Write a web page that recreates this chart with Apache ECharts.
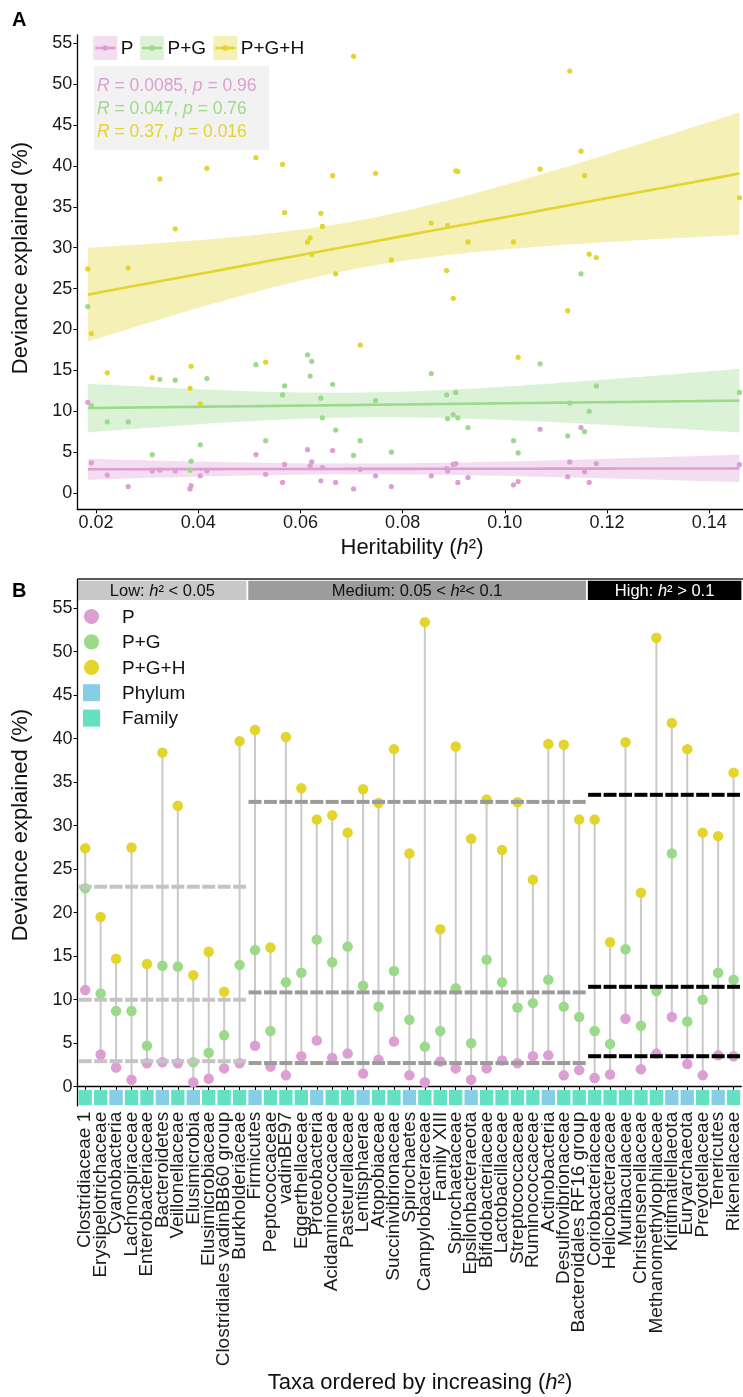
<!DOCTYPE html>
<html><head><meta charset="utf-8">
<script src="https://cdn.jsdelivr.net/npm/echarts@6/dist/echarts.min.js"></script>
<style>html,body{margin:0;padding:0;background:#fff}#c{width:743px;height:1397px}</style>
</head><body><div id="c"></div>
<script>
// ---------------- data ----------------
const taxa = ['Clostridiaceae 1','Erysipelotrichaceae','Cyanobacteria','Lachnospiraceae','Enterobacteriaceae','Bacteroidetes','Veillonellaceae','Elusimicrobia','Elusimicrobiaceae','Clostridiales vadinBB60 group','Burkholderiaceae',
 'Firmicutes','Peptococcaceae','vadinBE97','Eggerthellaceae','Proteobacteria','Acidaminococcaceae','Pasteurellaceae','Lentisphaerae','Atopobiaceae','Succinivibrionaceae','Spirochaetes','Campylobacteraceae','Family XIII','Spirochaetaceae','Epsilonbacteraeota','Bifidobacteriaceae','Lactobacillaceae','Streptococcaceae','Ruminococcaceae','Actinobacteria','Desulfovibrionaceae','Bacteroidales RF16 group',
 'Coriobacteriaceae','Helicobacteraceae','Muribaculaceae','Christensenellaceae','Methanomethylophilaceae','Kiritimatiellaeota','Euryarchaeota','Prevotellaceae','Tenericutes','Rikenellaceae'];
const taxonLevel = ['F','F','P','F','F','P','F','P','F','F','F',
 'P','F','F','F','P','F','F','P','F','F','P','F','F','F','P','F','F','F','F','P','F','F',
 'F','F','F','F','F','P','P','F','P','F'];
const heritability = [0.0184,0.0191,0.0222,0.0263,0.0310,0.0325,0.0355,0.0384,0.0386,0.0404,0.0417,
 0.0513,0.0532,0.0565,0.0569,0.0614,0.0619,0.0622,0.0640,0.0643,0.0663,0.0669,0.0704,0.0717,0.0747,0.0778,0.0856,0.0886,0.0888,0.0899,0.0904,0.0908,0.0928,
 0.1017,0.1026,0.1069,0.1123,0.1127,0.1149,0.1156,0.1165,0.1179,0.1459];
const devP = [11.1,3.7,2.2,0.8,2.7,2.8,2.7,0.5,0.9,2.1,2.7,
 4.7,2.3,1.3,3.5,5.3,3.3,3.8,1.5,3.1,5.2,1.3,0.5,2.9,2.1,0.8,2.1,3.0,2.7,3.5,3.6,1.3,1.9,
 1.0,1.4,7.8,2.0,3.8,8.0,2.6,1.3,3.6,3.5];
const devPG = [22.8,10.7,8.7,8.7,4.7,13.9,13.8,2.8,3.9,5.9,14.0,
 15.7,6.4,12.0,13.1,16.9,14.3,16.1,11.6,9.2,13.3,7.7,4.6,6.4,11.3,5.0,14.6,12.0,9.1,9.6,12.3,9.2,8.0,
 6.4,4.9,15.8,7.0,11.0,26.8,7.5,10.0,13.1,12.3];
const devPGH = [27.4,19.5,14.7,27.5,14.1,38.4,32.3,12.8,15.5,10.9,39.7,
 41.0,16.0,40.2,34.3,30.7,31.2,29.2,34.2,32.6,38.8,26.8,53.4,18.1,39.1,28.5,33.0,27.2,32.7,23.8,39.4,39.3,30.7,
 30.7,16.6,39.6,22.3,51.6,41.8,38.8,29.2,28.8,36.1];
const statsText = [['0.0085','0.96'],['0.047','0.76'],['0.37','0.016']];
const yTicks = [0,5,10,15,20,25,30,35,40,45,50,55];
const xTicksA = [0.02,0.04,0.06,0.08,0.10,0.12,0.14];
const groupNames = ['Low','Medium','High'];
const groupCuts = [0.05,0.1];

// ---------------- styles ----------------
const FONT = 'Liberation Sans, Arial, Helvetica, sans-serif';
const colP = '#dd9fd3', colPG = '#9bda8b', colPGH = '#e3d52e';
const seriesCols = [colP, colPG, colPGH];
const colPhylum = '#86cde6', colFamily = '#66e0c3';
const groupDash = ['#c4c4c4','#9b9b9b','#000000'];
const groupStrip = ['#c8c8c8','#9c9c9c','#000000'];
const groupText = ['#111','#111','#fff'];

// ---------------- regression (lm + 95% CI) ----------------
function fitLM(xs, ys){
  const n = xs.length;
  const mx = xs.reduce((a,b)=>a+b,0)/n, my = ys.reduce((a,b)=>a+b,0)/n;
  let sxx=0, sxy=0;
  for(let i=0;i<n;i++){ sxx+=(xs[i]-mx)**2; sxy+=(xs[i]-mx)*(ys[i]-my); }
  const b = sxy/sxx, a = my-b*mx;
  let sse=0; for(let i=0;i<n;i++){ sse+=(ys[i]-a-b*xs[i])**2; }
  const s = Math.sqrt(sse/(n-2)), t = 2.0195;
  const x0 = Math.min(...xs), x1 = Math.max(...xs);
  const line=[], up=[], lo=[];
  const K=80;
  for(let k=0;k<=K;k++){
    const x = x0+(x1-x0)*k/K, yh = a+b*x;
    const se = s*Math.sqrt(1/n+(x-mx)**2/sxx);
    line.push([x,yh]); up.push([x,yh+t*se]); lo.push([x,yh-t*se]);
  }
  return {line, up, lo};
}
const dataSets = [devP, devPG, devPGH];
const fits = dataSets.map(d=>fitLM(heritability, d));

// ---------------- groups ----------------
const grp = heritability.map(h => h<groupCuts[0]?0:(h<groupCuts[1]?1:2));
function groupMean(arr,g){ let s=0,c=0; arr.forEach((v,i)=>{ if(grp[i]===g){s+=v;c++;} }); return s/c; }

// ---------------- layout ----------------
const gA = {left:77.3, top:35, width:665.7, height:474.4};
const gB = {left:77.5, top:600.4, width:669.5, height:505.4};
const bw = gB.width/taxa.length;

const series = [];
// Panel A ribbons
fits.forEach((f,si)=>{
  series.push({type:'custom', xAxisIndex:0, yAxisIndex:0, silent:true, z:1,
    data:[[f.line[0][0], f.line[0][1]]],
    renderItem:(p,api)=>{
      const pts = f.up.map(d=>api.coord(d)).concat(f.lo.slice().reverse().map(d=>api.coord(d)));
      return {type:'polygon', shape:{points:pts}, style:{fill:seriesCols[si], opacity:0.35}};
    }});
});
fits.forEach((f,si)=>{
  series.push({type:'line', xAxisIndex:0, yAxisIndex:0, data:f.line, showSymbol:false, silent:true, z:2,
    lineStyle:{color:seriesCols[si], width:2.6}});
});
dataSets.forEach((d,si)=>{
  series.push({type:'scatter', xAxisIndex:0, yAxisIndex:0, z:3, symbolSize:5.2,
    data:heritability.map((h,i)=>[h,d[i]]), itemStyle:{color:seriesCols[si], opacity:1}});
});
// Panel B stems
series.push({type:'custom', xAxisIndex:1, yAxisIndex:1, silent:true, z:1,
  data: taxa.map((t,i)=>[i, Math.min(devP[i],devPG[i],devPGH[i]), Math.max(devP[i],devPG[i],devPGH[i])]),
  renderItem:(p,api)=>{
    const i=api.value(0);
    const a=api.coord([i,api.value(1)]), b=api.coord([i,api.value(2)]);
    return {type:'line', shape:{x1:a[0],y1:a[1],x2:b[0],y2:b[1]}, style:{stroke:'#c9c9c9', lineWidth:2}};
  }});
// tiles
series.push({type:'scatter', xAxisIndex:1, yAxisIndex:1, silent:true, z:2, symbol:'rect', symbolSize:[bw-2.2, 15.2],
  data: taxa.map((t,i)=>({value:[i,-1.25], itemStyle:{color: taxonLevel[i]==='P'?colPhylum:colFamily, opacity:1}}))});
// points
dataSets.forEach((d,si)=>{
  series.push({type:'scatter', xAxisIndex:1, yAxisIndex:1, z:3, symbolSize:10.5,
    data:d.map((v,i)=>[i,v]), itemStyle:{color:seriesCols[si], opacity:1}});
});
// group mean dashes
dataSets.forEach((d,si)=>{
  series.push({type:'scatter', xAxisIndex:1, yAxisIndex:1, z:4, silent:true, symbol:'rect', symbolSize:[bw-2.6, 4],
    data:taxa.map((t,i)=>({value:[i, groupMean(d, grp[i])], itemStyle:{color:groupDash[grp[i]], opacity:1}}))});
});

const axisTxt = {color:'#1a1a1a', fontSize:18, fontFamily:FONT};
const option = {
  animation:false,
  backgroundColor:'#fff',
  grid:[gA, gB],
  xAxis:[
    {type:'value', gridIndex:0, min:0.01634, max:0.1466,
     axisLine:{show:true, onZero:false, lineStyle:{color:'#000', width:1.3}},
     axisTick:{show:true, length:4, lineStyle:{color:'#000'}, customValues:xTicksA},
     axisLabel:Object.assign({margin:5, customValues:xTicksA, formatter:v=>v.toFixed(2)}, axisTxt),
     splitLine:{show:false}},
    {type:'category', gridIndex:1, data:taxa,
     axisLine:{show:true, lineStyle:{color:'#000', width:1.3}},
     axisTick:{show:true, alignWithLabel:true, interval:0, length:4, lineStyle:{color:'#000'}},
     axisLabel:{interval:0, rotate:90, margin:6, color:'#1a1a1a', fontSize:19, fontFamily:FONT},
     splitLine:{show:false}}
  ],
  yAxis:[
    {type:'value', gridIndex:0, min:-2.0, max:56.0,
     axisLine:{show:true, onZero:false, lineStyle:{color:'#000', width:1.3}},
     axisTick:{show:true, length:4, lineStyle:{color:'#000'}, customValues:yTicks},
     axisLabel:Object.assign({margin:5, customValues:yTicks}, axisTxt),
     splitLine:{show:false}},
    {type:'value', gridIndex:1, min:-2.2, max:55.9,
     axisLine:{show:true, onZero:false, lineStyle:{color:'#000', width:1.3}},
     axisTick:{show:true, length:4, lineStyle:{color:'#000'}, customValues:yTicks},
     axisLabel:Object.assign({margin:5, customValues:yTicks}, axisTxt),
     splitLine:{show:false}}
  ],
  series
};
const chart = echarts.init(document.getElementById('c'));
chart.setOption(option);

// ---------------- decorations ----------------
const G = [];
const txt = (x,y,text,o)=>Object.assign({type:'text', x, y, style:Object.assign({text, fontFamily:FONT, fill:'#111', fontSize:22, align:'left', verticalAlign:'middle'}, o||{})});
// panel letters
G.push(txt(12,20,'A',{fontWeight:'bold', fontSize:20, fill:'#000'}));
G.push(txt(12,591,'B',{fontWeight:'bold', fontSize:20, fill:'#000'}));
// axis titles
G.push({type:'text', x:21, y:258, rotation:Math.PI/2, style:{text:'Deviance explained (%)', fontFamily:FONT, fontSize:22, fill:'#111', align:'center', verticalAlign:'middle'}});
G.push({type:'text', x:21, y:825, rotation:Math.PI/2, style:{text:'Deviance explained (%)', fontFamily:FONT, fontSize:22, fill:'#111', align:'center', verticalAlign:'middle'}});
G.push({type:'text', x:412, y:548, style:{text:'{n|Heritability (}{i|h}{n|²)}', rich:{n:{fontFamily:FONT,fontSize:22,fill:'#111'}, i:{fontFamily:FONT,fontSize:22,fontStyle:'italic',fill:'#111'}}, align:'center', verticalAlign:'middle'}});
G.push({type:'text', x:420, y:1383, style:{text:'{n|Taxa ordered by increasing (}{i|h}{n|²)}', rich:{n:{fontFamily:FONT,fontSize:22,fill:'#111'}, i:{fontFamily:FONT,fontSize:22,fontStyle:'italic',fill:'#111'}}, align:'center', verticalAlign:'middle'}});

// Panel A legend
const legA = [{x:93.3, label:'P'},{x:140, label:'P+G'},{x:213.3, label:'P+G+H'}];
legA.forEach((L,si)=>{
  G.push({type:'rect', shape:{x:L.x, y:36, width:24, height:24}, style:{fill:seriesCols[si], opacity:0.35}});
  G.push({type:'line', shape:{x1:L.x+2, y1:48, x2:L.x+22, y2:48}, style:{stroke:seriesCols[si], lineWidth:2.6}});
  G.push({type:'circle', shape:{cx:L.x+12, cy:48, r:2.8}, style:{fill:seriesCols[si]}});
  G.push(txt(L.x+27.5, 49, L.label, {fontSize:19, fill:'#111'}));
});
// stats box
G.push({type:'rect', shape:{x:94, y:66, width:175, height:84}, style:{fill:'#f2f2f2'}});
statsText.forEach((s,si)=>{
  const c = seriesCols[si];
  G.push({type:'text', x:97, y:86+si*23, style:{
    text:'{i|R}{n| = '+s[0]+', }{i|p}{n| = '+s[1]+'}',
    rich:{n:{fontFamily:FONT,fontSize:17.5,fill:c}, i:{fontFamily:FONT,fontSize:17.5,fontStyle:'italic',fill:c}},
    align:'left', verticalAlign:'middle'}});
});

// Panel B legend
const legB = [{t:'P', c:colP, shape:'c'},{t:'P+G', c:colPG, shape:'c'},{t:'P+G+H', c:colPGH, shape:'c'},{t:'Phylum', c:colPhylum, shape:'s'},{t:'Family', c:colFamily, shape:'s'}];
legB.forEach((L,k)=>{
  const cy = 616.5 + k*25.4;
  if(L.shape==='c') G.push({type:'circle', shape:{cx:91.5, cy, r:7.6}, style:{fill:L.c}});
  else G.push({type:'rect', shape:{x:83, y:cy-8.5, width:17, height:17}, style:{fill:L.c}});
  G.push(txt(122, cy+1, L.t, {fontSize:19, fill:'#111'}));
});

// strips (positions from the category axis)
const stripTexts = [
  '{n|Low: }{i|h}{n|² < 0.05}',
  '{n|Medium: 0.05 < }{i|h}{n|²< 0.1}',
  '{n|High: }{i|h}{n|² > 0.1}'
];
[0,1,2].forEach(g=>{
  const idx = grp.map((v,i)=>v===g?i:-1).filter(i=>i>=0);
  const xa = chart.convertToPixel({xAxisIndex:1}, idx[0]) - bw/2;
  const xb = chart.convertToPixel({xAxisIndex:1}, idx[idx.length-1]) + bw/2;
  const l = g===0 ? xa+0.8 : xa+1, r = g===2 ? xb : xb-1;
  G.push({type:'rect', shape:{x:l, y:580.7, width:r-l, height:19.4}, style:{fill:groupStrip[g]}});
  const cx = g===2 ? (l+Math.min(r,743))/2 : (l+r)/2;
  G.push({type:'text', x:cx, y:591, style:{text:stripTexts[g],
    rich:{n:{fontFamily:FONT,fontSize:16.5,fill:groupText[g]}, i:{fontFamily:FONT,fontSize:16.5,fontStyle:'italic',fill:groupText[g]}},
    align:'center', verticalAlign:'middle'}});
});
G.push({type:'line', shape:{x1:77.5, y1:579, x2:743, y2:579}, style:{stroke:'#222', lineWidth:1.3}});
G.push({type:'line', shape:{x1:77.5, y1:579, x2:77.5, y2:601}, style:{stroke:'#000', lineWidth:1.3}});

chart.setOption({graphic:{elements:G}});
</script></body></html>
